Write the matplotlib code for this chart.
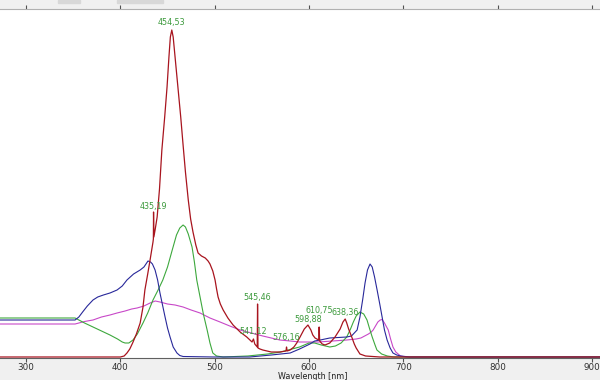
import numpy as np
import matplotlib
matplotlib.use("Agg")
import matplotlib.pyplot as plt
from matplotlib.patches import Rectangle

# spectra (wavelength nm, intensity a.u.)
red_wl = [272, 400, 404, 407, 410, 413, 417, 421, 424, 426, 429, 431.5, 434.6, 435.0,
          435.19, 435.5, 437, 439, 441.5, 444, 447, 449.5, 451.5, 453, 454.53, 456, 458,
          461, 464, 466.5, 469, 472, 474.5, 477, 480, 482.4, 486, 490, 493, 495, 498,
          500.4, 502, 503.6, 506, 509, 514, 519.5, 527, 534, 539.6, 541.12, 542.5,
          545.1, 545.46, 545.9, 548, 551, 560, 569, 575.6, 576.16, 576.8, 580, 584,
          587, 590.5, 595, 598.88, 602, 604, 606.4, 610.3, 610.75, 611.3, 614, 617,
          622, 627.6, 633, 636, 638.36, 640, 642, 645.7, 648, 650, 654, 660, 675, 908]
red_val = [0, 0, 1, 4, 8, 14, 23, 34, 50, 67, 83, 97, 115, 118,
           145, 120, 128, 140, 168, 207, 240, 270, 300, 320, 327, 320, 300,
           270, 240, 212, 185, 157, 138, 125, 112, 104, 101, 99, 96, 93, 86,
           77, 68, 60, 53, 47, 39, 32, 25, 20, 15, 18, 13,
           10, 53, 9, 8, 7, 5, 5, 6, 10, 6, 7, 10,
           14, 20, 28, 32, 27, 22, 19, 17, 30, 16, 13, 12,
           14, 20, 28, 35, 38, 34, 28, 19, 13, 9, 3, 1, 0, 0]

blue_wl = [272, 352, 356, 360, 365, 371, 376, 382, 389, 396.5, 402, 407, 414, 421,
           425, 429.3, 432, 434, 436.8, 439.5, 442, 444.7, 447.4, 450, 452.7, 456,
           460, 463, 466.5, 500, 537, 560, 580, 590, 601, 606, 612, 622, 640, 645,
           648, 651, 654, 657, 659.4, 662, 664.7, 667, 669.5, 672.2, 675, 677.5, 680,
           682.8, 686, 689, 693, 697, 707, 908]
blue_val = [37, 37, 40, 45, 51, 57, 60, 62, 64, 67, 71, 77, 83, 87,
            90, 96, 95, 93, 87, 77, 64, 52, 40, 29, 20, 10,
            4, 1.5, 0.5, 0, 0, 2, 4, 8, 13, 16, 17, 19, 20, 21,
            24, 27, 40, 58, 74, 87, 93, 90, 80, 67, 53, 40, 27,
            17, 9, 4, 2, 1, 0, 0]

green_wl = [272, 352, 356, 362, 371, 380, 389, 397, 402, 405, 409, 413.4, 418, 424,
            429, 434.6, 440, 445, 450, 455, 459.5, 463, 466.5, 469, 472, 476, 478.5,
            481, 484.5, 488, 492, 495, 498, 502, 509, 535, 556, 570, 590, 600, 606,
            613, 622, 628, 634, 640, 644, 647, 650, 654, 658, 661.5, 664, 667, 670,
            672, 677, 683, 690, 908]
green_val = [39, 39, 37, 34, 30, 26, 22, 18, 15, 14, 14, 17, 23, 34,
             44, 57, 67, 77, 90, 107, 122, 129, 132, 130, 123, 110, 95,
             77, 60, 43, 27, 14, 4, 1, 0, 1, 3, 5, 10, 14, 14,
             12, 10, 11, 14, 20, 28, 35, 41, 45, 43, 37, 29, 20, 12,
             7, 3, 1, 0, 0]

mag_wl = [272, 352, 356, 362, 371, 380, 389, 396.5, 405, 412, 417.7, 425, 431.5,
          437, 442, 450, 458, 466.5, 475, 484.5, 495, 505.7, 516, 527, 539, 551,
          560, 569, 580, 590, 610, 625, 640, 650, 655, 659, 663, 666, 668, 670.5,
          673, 675.5, 677.5, 680, 684, 686.5, 689, 692, 697, 703, 908]
mag_val = [33, 33, 34, 35.5, 37, 40, 42, 44, 46, 48, 49, 51, 54,
           56, 55, 53, 52, 50, 47, 44, 39, 35, 31, 27, 24, 21,
           19, 17, 16, 15, 15, 16, 17, 18, 19, 21, 23, 25, 27, 31,
           35, 37, 37.5, 34, 27, 18, 10, 5, 1, 0, 0]

# labelled peaks and label offsets (pixels)
peaks = [454.53, 435.19, 545.46, 541.12, 576.16, 598.88, 610.75, 638.36]
label_dy = [3, 1, 2, 3, 5, 1, 12, 2]

xticks = [300, 400, 500, 600, 700, 800, 900]

fig = plt.figure(figsize=(6, 3.8), dpi=100, facecolor="#f0f0f0")
# toolbar strip at the top
fig.patches.append(Rectangle((58 / 600, 1 - 3 / 380), 22 / 600, 3 / 380,
                             transform=fig.transFigure, color="#d8d8d8"))
fig.patches.append(Rectangle((117 / 600, 1 - 3 / 380), 46 / 600, 3 / 380,
                             transform=fig.transFigure, color="#d8d8d8"))

ax = fig.add_axes([0, 22 / 380, 1, 349 / 380])
ax.set_facecolor("white")

ax.plot(mag_wl, mag_val, color="#c848c8", lw=0.8)
ax.plot(green_wl, green_val, color="#3da83d", lw=0.8)
ax.plot(blue_wl, blue_val, color="#28289a", lw=0.8)
ax.plot(red_wl, red_val, color="#a8141e", lw=0.9)

for p, dy in zip(peaks, label_dy):
    v = np.interp(p, red_wl, red_val)
    ax.annotate(f"{p:.2f}".replace(".", ","), (p, v), xytext=(0, dy),
                textcoords="offset pixels", ha="center", va="bottom",
                fontsize=5.8, color="#3c9a3c")

ax.set_xlim(272.4, 908.5)
ax.set_ylim(-1, 348)
ax.set_xticks(xticks)
ax.set_xticklabels([str(t) for t in xticks], fontsize=6.3, color="#303030")
ax.set_yticks([])
ax.tick_params(axis="x", which="both", top=True, direction="out", length=3,
               width=0.8, color="#505050", pad=0.8)
ax.set_xlabel("Wavelength [nm]", fontsize=5.8, color="#202020")
ax.xaxis.set_label_coords(313 / 600, -14 / 349)

for side in ["left", "right"]:
    ax.spines[side].set_visible(False)
ax.spines["bottom"].set_color("#606060")
ax.spines["top"].set_color("#b0b0b0")

fig.savefig("out.png", dpi=100, facecolor=fig.get_facecolor())
